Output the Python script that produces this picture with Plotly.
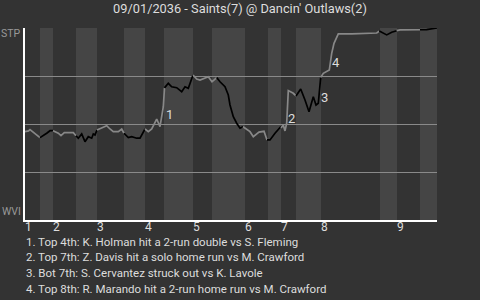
import plotly.graph_objects as go

# Game progress (x) and win expectancy for Saints (y); segments by half-inning
half_labels = ["T1", "B1", "T2", "B2", "T3", "B3", "T4", "B4", "T5", "B5",
               "T6", "B6", "T7", "B7", "T8", "B8", "T9", "B9"]
seg_x = [
    [0, 3.5, 5, 10, 15],
    [15, 18.3, 21.7, 25, 28],
    [28, 33.3, 36, 39.3, 44, 48.3, 51],
    [51, 53.3, 56.7, 60, 63.3, 66.7, 68.3, 70, 72],
    [72, 76.7, 81.7, 85, 88.3, 93.3, 96.7, 99],
    [99, 103.3, 106.7, 111.7, 115, 120],
    [120, 123.3, 126.7, 131.7, 135, 138.3, 139.5],
    [139.5, 143.3, 146.7, 151.7, 156.7, 160, 163.3, 165, 168],
    [168, 171.7, 175, 180, 183.3, 187, 191.7],
    [191.7, 195, 200, 203.3, 205, 208.3, 211.7, 215, 218],
    [218, 220, 225, 228.3, 234, 239, 242],
    [242, 245, 250, 255.7, 256],
    [256, 258.3, 260, 261.7, 263.3, 268.3, 271],
    [271, 275.7, 280, 284, 288.3, 291, 293.3, 295.7],
    [295.7, 298.3, 304.3, 306.7, 309, 313.3, 326.7, 335, 348.3, 351.7, 354.3],
    [354.3, 358.3, 361.7, 366.7, 371.7],
    [371.7, 375, 395],
    [395, 401.7, 412],
]
seg_y = [
    [0.460, 0.464, 0.471, 0.452, 0.429],
    [0.429, 0.439, 0.452, 0.465, 0.465],
    [0.465, 0.452, 0.439, 0.455, 0.455, 0.455, 0.439],
    [0.439, 0.426, 0.448, 0.408, 0.434, 0.426, 0.448, 0.443, 0.469],
    [0.469, 0.478, 0.491, 0.474, 0.460, 0.460, 0.474, 0.452],
    [0.452, 0.429, 0.434, 0.426, 0.426, 0.474],
    [0.474, 0.460, 0.474, 0.526, 0.486, 0.590, 0.688],
    [0.688, 0.712, 0.694, 0.689, 0.668, 0.694, 0.686, 0.712, 0.755],
    [0.755, 0.734, 0.729, 0.741, 0.746, 0.720, 0.742],
    [0.742, 0.720, 0.694, 0.651, 0.599, 0.538, 0.504, 0.478, 0.486],
    [0.486, 0.478, 0.460, 0.434, 0.458, 0.462, 0.417],
    [0.417, 0.417, 0.452, 0.486, 0.479],
    [0.479, 0.495, 0.464, 0.505, 0.674, 0.660, 0.646],
    [0.646, 0.682, 0.625, 0.564, 0.642, 0.599, 0.608, 0.743],
    [0.743, 0.764, 0.781, 0.868, 0.920, 0.969, 0.969, 0.971, 0.971, 0.974, 0.984],
    [0.984, 0.972, 0.964, 0.978, 0.986],
    [0.986, 0.990, 0.991],
    [0.991, 0.992, 1.0],
]

inning_labels = ["1", "2", "3", "4", "5", "6", "7", "8", "9"]
inning_starts = [0, 28, 72, 120, 168, 220, 256, 296, 372]
bottom_starts = [15, 51, 99, 139, 187, 243, 271, 355, 395]
game_end = 412

event_labels = ["1", "2", "3", "4"]
event_x = [144, 266.7, 299, 311]
event_y = [0.552, 0.530, 0.639, 0.819]

event_texts = [
    "1. Top 4th: K. Holman hit a 2-run double vs S. Fleming",
    "2. Top 7th: Z. Davis hit a solo home run vs M. Crawford",
    "3. Bot 7th: S. Cervantez struck out vs K. Lavole",
    "4. Top 8th: R. Marando hit a 2-run home run vs M. Crawford",
]

title = "09/01/2036 - Saints(7) @ Dancin' Outlaws(2)"

FONT = "Roboto, sans-serif"
BG = "#333333"
BAND = "#454545"
GRID = "#8a8a8a"
TXT = "#dddddd"

fig = go.Figure()

for lab, xs, ys in zip(half_labels, seg_x, seg_y):
    color = "#888888" if lab.startswith("T") else "#000000"
    fig.add_trace(go.Scatter(x=xs, y=ys, mode="lines",
                             line=dict(color=color, width=1.7),
                             hoverinfo="skip", showlegend=False))

shapes = []
ends = inning_starts[1:] + [game_end]
for b0, b1 in zip(bottom_starts, ends):
    shapes.append(dict(type="rect", xref="x", yref="y", x0=b0, x1=b1, y0=0, y1=1,
                       fillcolor=BAND, line=dict(width=0), layer="below"))

annotations = []
for lab, xs in zip(inning_labels, inning_starts):
    annotations.append(dict(x=xs, y=-0.035, xref="x", yref="paper", text=lab,
                            showarrow=False, xanchor="left", yanchor="middle",
                            xshift=-2.5,
                            font=dict(family=FONT, size=12, color=TXT)))
for lab, ex, ey in zip(event_labels, event_x, event_y):
    annotations.append(dict(x=ex, y=ey, xref="x", yref="y", text=lab,
                            showarrow=False, xanchor="center", yanchor="middle",
                            font=dict(family=FONT, size=13, color=TXT)))
for i, t in enumerate(event_texts):
    annotations.append(dict(x=0, y=-0.113 - 0.0822 * i, xref="paper", yref="paper",
                            text=t, showarrow=False, xanchor="left", yanchor="middle",
                            xshift=-1.5,
                            font=dict(family=FONT, size=11.5, color=TXT)))
annotations.append(dict(x=0, y=0.969, xref="paper", yref="y", text="STP",
                        showarrow=False, xanchor="right", yanchor="middle", xshift=-2,
                        font=dict(family=FONT, size=10.5, color="#999999")))
annotations.append(dict(x=0, y=0.042, xref="paper", yref="y", text="WVI",
                        showarrow=False, xanchor="right", yanchor="middle", xshift=-2,
                        font=dict(family=FONT, size=10.5, color="#999999")))

fig.update_layout(
    width=480, height=300,
    margin=dict(l=25, r=43, t=28, b=80),
    paper_bgcolor=BG, plot_bgcolor=BG,
    title=dict(text=title, x=0.5, xref="container", xanchor="center",
               y=1 - 8.5 / 300, yref="container", yanchor="middle",
               font=dict(family=FONT, size=12.8, color=TXT)),
    xaxis=dict(range=[0, game_end], showgrid=False, zeroline=False,
               showticklabels=False, ticks="", showline=True, linecolor="#ffffff",
               linewidth=1.5),
    yaxis=dict(range=[0, 1], tickvals=[0.25, 0.5, 0.75, 1.0], showticklabels=False,
               ticks="", showgrid=True, gridcolor=GRID, gridwidth=1, zeroline=False,
               showline=True, linecolor="#ffffff", linewidth=1.5),
    shapes=shapes,
    annotations=annotations,
)

fig.write_html("out.html")
